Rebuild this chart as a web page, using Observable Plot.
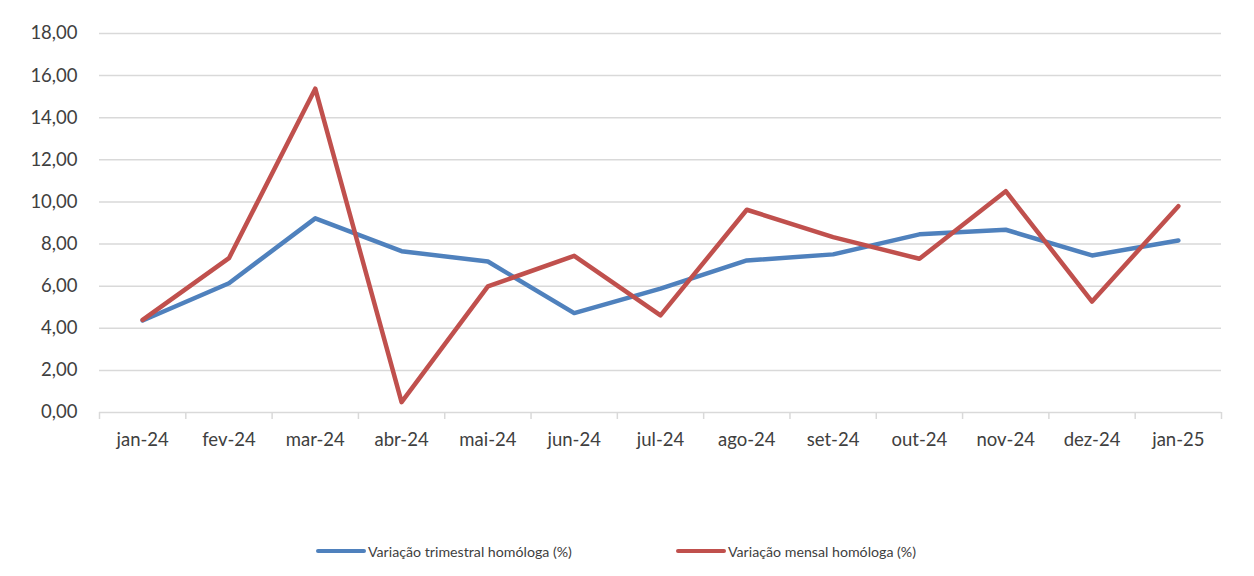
<!DOCTYPE html>
<html>
<head>
<meta charset="utf-8">
<script src="https://cdn.jsdelivr.net/npm/d3@7"></script>
<script src="https://cdn.jsdelivr.net/npm/@observablehq/plot@0.6"></script>
<style>
  html, body { margin: 0; padding: 0; background: #fff; }
  #wrap { position: relative; width: 1254px; height: 576px; font-family: Lato, "Open Sans", sans-serif; }
  #legend { position: absolute; top: 541px; left: 0; width: 1254px; height: 20px; font-size: 14.2px; color: #404040; }
  .item { position: absolute; top: 0; display: flex; align-items: center; height: 20px; }
  .sw { width: 50px; height: 4px; border-radius: 2px; margin-right: 2px; }
</style>
</head>
<body>
<div id="wrap">
  <div id="chart"></div>
  <div id="legend"></div>
</div>
<script>
const categories = ["jan-24","fev-24","mar-24","abr-24","mai-24","jun-24","jul-24","ago-24","set-24","out-24","nov-24","dez-24","jan-25"];
const trimestral = [4.37, 6.14, 9.22, 7.66, 7.17, 4.72, 5.88, 7.22, 7.51, 8.46, 8.68, 7.46, 8.17];
const mensal = [4.40, 7.33, 15.38, 0.49, 5.99, 7.44, 4.61, 9.63, 8.33, 7.30, 10.51, 5.27, 9.80];
const seriesNames = ["Variação trimestral homóloga (%)", "Variação mensal homóloga (%)"];
const seriesColors = ["#4F81BD", "#C0504D"];
const yTicks = [0, 2, 4, 6, 8, 10, 12, 14, 16, 18];

const data = [];
categories.forEach((c, i) => {
  data.push({i, cat: c, value: trimestral[i], series: seriesNames[0]});
});
categories.forEach((c, i) => {
  data.push({i, cat: c, value: mensal[i], series: seriesNames[1]});
});

const idx = d3.range(categories.length);
const bounds = d3.range(categories.length + 1).map(i => i - 0.5);
const fmt = d => d3.format(".2f")(d).replace(".", ",");

const chart = Plot.plot({
  width: 1254,
  height: 530,
  marginLeft: 99,
  marginRight: 33,
  marginTop: 33,
  marginBottom: 118,
  style: {fontFamily: "Lato, 'Open Sans', sans-serif", fontSize: "18.5px", color: "#404040", background: "#fff"},
  x: {type: "linear", domain: [-0.5, categories.length - 0.5]},
  y: {domain: [0, 18]},
  color: {domain: seriesNames, range: seriesColors},
  marks: [
    Plot.gridY(yTicks, {stroke: "#d9d9d9", strokeOpacity: 1, strokeWidth: 1.5}),
    Plot.axisX(bounds, {tickFormat: () => "", tickSize: 7, stroke: "#d9d9d9", strokeWidth: 1.5, label: null}),
    Plot.axisX(idx, {tickFormat: i => categories[i], tickSize: 0, tickPadding: 20, fontSize: 18.5, fill: "#404040", label: null}),
    Plot.axisY(yTicks, {tickFormat: fmt, tickSize: 0, tickPadding: 22, fontSize: 18.5, fill: "#404040", label: null}),
    Plot.line(data, {x: "i", y: "value", z: "series", stroke: "series", strokeWidth: 4.5, strokeLinejoin: "round", strokeLinecap: "round"})
  ]
});
document.getElementById("chart").appendChild(chart);

const legend = document.getElementById("legend");
const lefts = [316, 676];
seriesNames.forEach((n, k) => {
  const it = document.createElement("div");
  it.className = "item";
  it.style.left = lefts[k] + "px";
  const sw = document.createElement("div");
  sw.className = "sw";
  sw.style.background = seriesColors[k];
  const t = document.createElement("span");
  t.textContent = n;
  it.appendChild(sw);
  it.appendChild(t);
  legend.appendChild(it);
});
</script>
</body>
</html>
